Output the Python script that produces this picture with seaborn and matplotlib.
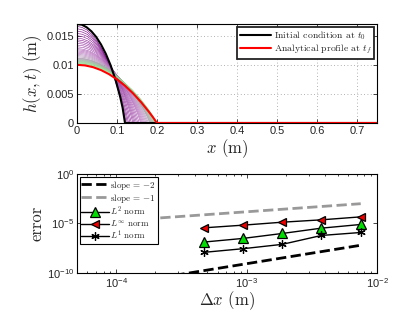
import numpy as np
import pandas as pd
import matplotlib
matplotlib.use("Agg")
import matplotlib.pyplot as plt
import seaborn as sns
from matplotlib.font_manager import FontProperties
from matplotlib.colors import LinearSegmentedColormap
from matplotlib.ticker import LogLocator, NullFormatter

sns.set_style("ticks")
plt.rcParams['font.family'] = ['Liberation Sans', 'DejaVu Sans']
plt.rcParams['mathtext.fontset'] = 'dejavusans'

# ---------- data: spreading profiles ----------
init_x = [0.0, 0.012, 0.024, 0.036, 0.048, 0.060, 0.072, 0.084, 0.096, 0.108, 0.114, 0.120, 0.75]
init_h = [0.0170, 0.0169, 0.01646, 0.01576, 0.01479, 0.0135, 0.0119, 0.00993, 0.00751, 0.0045, 0.00264, 0.0, 0.0]

final_x = [0.0, 0.02, 0.04, 0.06, 0.08, 0.10, 0.12, 0.14, 0.16, 0.18, 0.19, 0.20, 0.75]
final_h = [0.0100, 0.0099, 0.0096, 0.0091, 0.0084, 0.0075, 0.0064, 0.0051, 0.0036, 0.0019, 0.00098, 0.0, 0.0]

# intermediate profiles: peak height and front position of each curve
mid_peak = [0.0166, 0.0162, 0.0158, 0.0154, 0.0150, 0.0146, 0.0143, 0.0140, 0.0137, 0.0134,
            0.0131, 0.0128, 0.0126, 0.0124, 0.0122, 0.0120, 0.0118, 0.0116, 0.0114, 0.0112,
            0.0111, 0.0110, 0.0109, 0.0108, 0.0107, 0.0106, 0.0105, 0.0104, 0.0103, 0.0102]
mid_front = [0.123, 0.126, 0.129, 0.1325, 0.136, 0.1397, 0.1427, 0.1457, 0.1489, 0.1522,
             0.1557, 0.1594, 0.1619, 0.1645, 0.1672, 0.170, 0.1729, 0.1759, 0.1789, 0.1821,
             0.1838, 0.1855, 0.1872, 0.1889, 0.1907, 0.1925, 0.1943, 0.1962, 0.1981, 0.199]
shape_s = [0.0, 0.1, 0.2, 0.3, 0.4, 0.5, 0.6, 0.7, 0.8, 0.9, 0.95, 1.0]
shape_h = [1.0, 0.99, 0.964, 0.918, 0.855, 0.772, 0.67, 0.547, 0.40, 0.227, 0.125, 0.0]

# ---------- data: convergence ----------
dx = [4.6875e-4, 9.375e-4, 1.875e-3, 3.75e-3, 7.5e-3]
err_linf = [10**-5.44, 10**-5.17, 10**-4.87, 10**-4.63, 10**-4.33]
err_l2 = [10**-6.88, 10**-6.51, 10**-6.01, 10**-5.47, 10**-5.10]
err_l1 = [10**-7.92, 10**-7.55, 10**-7.11, 10**-6.21, 10**-5.91]
slope2_x = [1e-4, 7.5e-3]
slope2_y = [10**-11.2, 10**-7.2]
slope1_x = [1e-4, 7.5e-3]
slope1_y = [10**-4.75, 10**-3.0]

cm_font = dict(family='cmr10', math_fontfamily='cm')

fig = plt.figure(figsize=(4.15, 3.17), dpi=100)
ax1 = fig.add_axes([0.1855, 0.612, 0.723, 0.312])
ax2 = fig.add_axes([0.1855, 0.139, 0.723, 0.312])

# ---------- top panel ----------
cmap = LinearSegmentedColormap.from_list(
    'pg', [(0.5, 0.05, 0.55), (0.72, 0.45, 0.75), (0.55, 0.88, 0.55)])
n = len(mid_peak)
for k in range(n):
    xs = [s * mid_front[k] for s in shape_s] + [0.75]
    hs = [v * mid_peak[k] for v in shape_h] + [0.0]
    sns.lineplot(x=xs, y=hs, ax=ax1, sort=False, estimator=None,
                 color=cmap(k / (n - 1)), linewidth=0.45)
sns.lineplot(x=init_x, y=init_h, ax=ax1, sort=False, estimator=None,
             color='black', linewidth=1.5, label='Initial condition at $t_0$')
sns.lineplot(x=final_x, y=final_h, ax=ax1, sort=False, estimator=None,
             color='red', linewidth=1.5, label='Analytical profile at $t_f$')

ax1.set_xlim(0, 0.75)
ax1.set_ylim(0, 0.017)
ax1.set_xticks(np.arange(0, 0.71, 0.1))
ax1.set_xticklabels(['0', '0.1', '0.2', '0.3', '0.4', '0.5', '0.6', '0.7'])
ax1.set_yticks([0, 0.005, 0.01, 0.015])
ax1.set_yticklabels(['0', '0.005', '0.01', '0.015'])
ax1.grid(True, linestyle=(0, (1, 3)), color='#999999', linewidth=0.6)
ax1.set_xlabel('$x$ (m)', fontsize=12, labelpad=1, **cm_font)
ax1.set_ylabel('$h(x,t)$ (m)', fontsize=12, labelpad=2, **cm_font)
leg1 = ax1.legend(loc='upper right', prop=FontProperties(size=7, **cm_font),
                  handlelength=3.2, handletextpad=0.3, borderpad=0.25,
                  labelspacing=0.1, fancybox=False, edgecolor='#222222',
                  shadow=False, framealpha=1, borderaxespad=0.3)
leg1.get_frame().set_linewidth(1.3)

# ---------- bottom panel ----------
conv = pd.DataFrame({'dx': dx * 3,
                     'err': err_l2 + err_linf + err_l1,
                     'norm': ['L2'] * 5 + ['Linf'] * 5 + ['L1'] * 5})
sns.lineplot(x=slope2_x, y=slope2_y, ax=ax2, color='black', linestyle='--',
             linewidth=2, label='slope = $-2$')
sns.lineplot(x=slope1_x, y=slope1_y, ax=ax2, color='#999999', linestyle='--',
             linewidth=2, label='slope = $-1$')
styles = {'L2': dict(marker='^', mfc='#00dd00', ms=7, label='$L^2$ norm'),
          'Linf': dict(marker='<', mfc='#ee0000', ms=6, label='$L^\\infty$ norm'),
          'L1': dict(marker=(6, 2, 0), mfc='black', ms=6, label='$L^1$ norm')}
for key in ['L2', 'Linf', 'L1']:
    sub = conv[conv['norm'] == key]
    st = styles[key]
    sns.lineplot(data=sub, x='dx', y='err', ax=ax2, color='black', linewidth=1,
                 marker=st['marker'], markerfacecolor=st['mfc'], markeredgecolor='black',
                 markersize=st['ms'], markeredgewidth=0.9, label=st['label'])

ax2.set_xscale('log')
ax2.set_yscale('log')
ax2.set_xlim(5e-5, 1e-2)
ax2.set_ylim(1e-10, 1)
ax2.set_yticks([1e-10, 1e-5, 1])
ax2.yaxis.set_minor_locator(plt.NullLocator())
ax2.xaxis.set_minor_locator(LogLocator(base=10, subs=np.arange(2, 10)))
ax2.xaxis.set_minor_formatter(NullFormatter())
ax2.set_xlabel('$\\Delta x$ (m)', fontsize=12, labelpad=0, **cm_font)
ax2.set_ylabel('error', fontsize=12, labelpad=2, **cm_font)
leg2 = ax2.legend(loc='upper left', prop=FontProperties(size=6.5, **cm_font),
                  handlelength=3.0, handletextpad=0.2, borderpad=0.2,
                  labelspacing=0.0, fancybox=False, edgecolor='black',
                  framealpha=1, borderaxespad=0.3, numpoints=1)
leg2.get_frame().set_linewidth(0.8)

for ax in (ax1, ax2):
    ax.tick_params(which='both', direction='in', top=True, right=True,
                   labelsize=8, width=0.6, pad=2)
    ax.tick_params(which='major', length=3)
    ax.tick_params(which='minor', length=1.5)
    for sp in ax.spines.values():
        sp.set_linewidth(0.8)
        sp.set_color('black')

fig.savefig('out.png', dpi=100)
